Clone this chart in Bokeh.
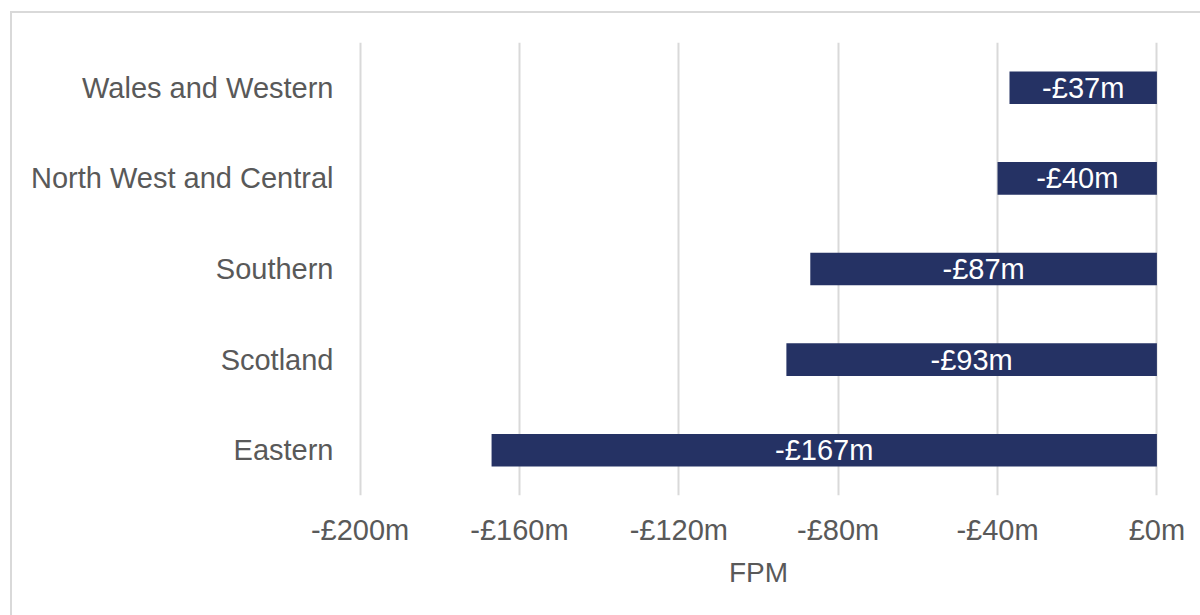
from bokeh.plotting import figure
from bokeh.models import FactorRange, Range1d, ColumnDataSource, FixedTicker, LabelSet
from bokeh.core.properties import value
from bokeh.embed import file_html
from bokeh.resources import INLINE

regions = ["Eastern", "Scotland", "Southern", "North West and Central", "Wales and Western"]
fpm = [-167, -93, -87, -40, -37]
bar_labels = ["-£167m", "-£93m", "-£87m", "-£40m", "-£37m"]
tick_values = [-200, -160, -120, -80, -40, 0]
tick_labels = ["-£200m", "-£160m", "-£120m", "-£80m", "-£40m", "£0m"]

FONT = "Liberation Sans"
GREY = "#595959"

src = ColumnDataSource(dict(region=regions, fpm=fpm, mid=[v / 2 for v in fpm], label=bar_labels))

p = figure(width=1230, height=640, y_range=FactorRange(*regions), x_range=Range1d(-200.4, 0.4),
           output_backend="svg", toolbar_location=None,
           min_border_left=346, min_border_top=29, min_border_bottom=158, min_border_right=84)
p.styles = {"margin-left": "10px", "margin-top": "11px", "border": "2px solid #d9d9d9"}
p.outline_line_color = None
p.background_fill_color = "white"

p.hbar(y="region", left=0, right="fpm", height=0.36, source=src, fill_color="#253264", line_color=None)

labels = LabelSet(x="mid", y="region", text="label", source=src, text_color="white",
                  text_font=value(FONT), text_font_size="29px", text_align="center", text_baseline="middle")
p.add_layout(labels)

p.xaxis.ticker = FixedTicker(ticks=tick_values)
p.xaxis.major_label_overrides = {v: l for v, l in zip(tick_values, tick_labels)}
p.xaxis.axis_label = "FPM"
for ax in (p.xaxis, p.yaxis):
    ax.axis_line_color = None
    ax.major_tick_line_color = None
    ax.minor_tick_line_color = None
    ax.major_label_text_font = FONT
    ax.major_label_text_font_size = "29px"
    ax.major_label_text_color = GREY
p.xaxis.major_label_standoff = 12
p.xaxis.axis_label_text_font = FONT
p.xaxis.axis_label_text_font_size = "28px"
p.xaxis.axis_label_text_font_style = "normal"
p.xaxis.axis_label_text_color = GREY
p.xaxis.axis_label_standoff = 8
p.yaxis.major_label_standoff = 19

p.xgrid.grid_line_color = "#d9d9d9"
p.xgrid.grid_line_width = 2
p.ygrid.grid_line_color = None

open("out.html", "w").write(file_html(p, INLINE))
